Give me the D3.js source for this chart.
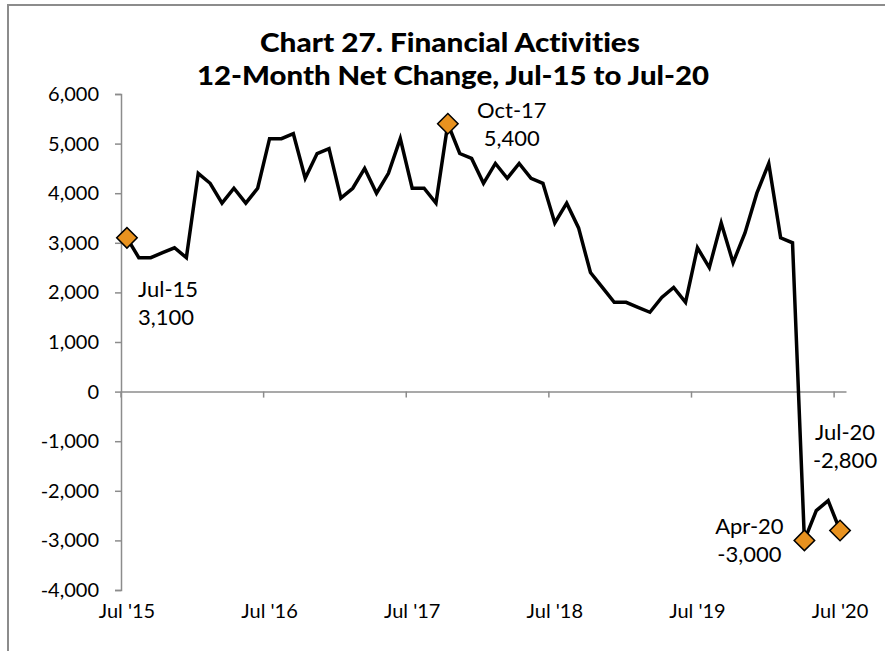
<!DOCTYPE html>
<html lang="en">
<head>
    <meta charset="UTF-8">
    <title>Chart 27. Financial Activities</title>
    <script src="https://d3js.org/d3.v7.min.js"></script>
    <style>
        body { margin: 0; background: #fff; }
        svg { display: block; font-family: Lato, "Open Sans", sans-serif; font-variant-ligatures: none; }
    </style>
</head>
<body>
    <svg width="885" height="651"></svg>

    <script>
        // Months, Jul-15 .. Jul-20
        const months = [
            "Jul-15","Aug-15","Sep-15","Oct-15","Nov-15","Dec-15","Jan-16","Feb-16","Mar-16","Apr-16","May-16","Jun-16",
            "Jul-16","Aug-16","Sep-16","Oct-16","Nov-16","Dec-16","Jan-17","Feb-17","Mar-17","Apr-17","May-17","Jun-17",
            "Jul-17","Aug-17","Sep-17","Oct-17","Nov-17","Dec-17","Jan-18","Feb-18","Mar-18","Apr-18","May-18","Jun-18",
            "Jul-18","Aug-18","Sep-18","Oct-18","Nov-18","Dec-18","Jan-19","Feb-19","Mar-19","Apr-19","May-19","Jun-19",
            "Jul-19","Aug-19","Sep-19","Oct-19","Nov-19","Dec-19","Jan-20","Feb-20","Mar-20","Apr-20","May-20","Jun-20",
            "Jul-20"
        ];

        // 12-month net change
        const netChange = [
            3100, 2700, 2700, 2800, 2900, 2700, 4400, 4200, 3800, 4100, 3800, 4100,
            5100, 5100, 5200, 4300, 4800, 4900, 3900, 4100, 4500, 4000, 4400, 5100,
            4100, 4100, 3800, 5400, 4800, 4700, 4200, 4600, 4300, 4600, 4300, 4200,
            3400, 3800, 3300, 2400, 2100, 1800, 1800, 1700, 1600, 1900, 2100, 1800,
            2900, 2500, 3400, 2600, 3200, 4000, 4600, 3100, 3000, -3000, -2400, -2200,
            -2800
        ];

        const yTicks = [-4000, -3000, -2000, -1000, 0, 1000, 2000, 3000, 4000, 5000, 6000];
        const xTickMonths = ["Jul-15", "Jul-16", "Jul-17", "Jul-18", "Jul-19", "Jul-20"];
        const xTickLabels = ["Jul '15", "Jul '16", "Jul '17", "Jul '18", "Jul '19", "Jul '20"];

        // highlighted points
        const marked = ["Jul-15", "Oct-17", "Apr-20", "Jul-20"];

        const data = months.map((m, i) => ({ month: m, value: netChange[i] }));

        const svg = d3.select("svg");
        const fmt = d3.formatLocale({ decimal: ".", thousands: ",", grouping: [3], currency: ["$", ""], minus: "-" }).format(",");

        const x = d3.scaleBand()
            .domain(months)
            .range([121, 846])
            .padding(0);

        const y = d3.scaleLinear()
            .domain([-4000, 6000])
            .range([590, 94]);

        const axisColor = "#8c8c8c";

        // okvir
        svg.append("rect")
            .attr("x", 8)
            .attr("y", 5)
            .attr("width", 900)
            .attr("height", 700)
            .attr("fill", "none")
            .attr("stroke", axisColor)
            .attr("stroke-width", 2);

        // naslov
        svg.append("text")
            .attr("x", 450)
            .attr("y", 52)
            .attr("text-anchor", "middle")
            .attr("textLength", 380)
            .attr("lengthAdjust", "spacingAndGlyphs")
            .style("font-size", "26px")
            .style("font-weight", 900)
            .text("Chart 27. Financial Activities");

        svg.append("text")
            .attr("x", 453)
            .attr("y", 85)
            .attr("text-anchor", "middle")
            .attr("textLength", 512)
            .attr("lengthAdjust", "spacingAndGlyphs")
            .style("font-size", "26px")
            .style("font-weight", 900)
            .text("12-Month Net Change, Jul-15 to Jul-20");

        // Y os
        const yAxis = svg.append("g")
            .attr("transform", `translate(${x.range()[0]},0)`)
            .call(d3.axisLeft(y).tickValues(yTicks).tickSize(6).tickPadding(16).tickFormat(fmt));
        yAxis.select(".domain").attr("stroke", axisColor).attr("stroke-width", 1.5);
        yAxis.selectAll(".tick line").attr("stroke", axisColor).attr("stroke-width", 1.5);
        yAxis.selectAll(".tick text")
            .attr("fill", "#000")
            .style("font-size", "20px")
            .style("font-family", "Lato, sans-serif");

        // X os (linija na nuli, crtice između kategorija)
        const bw = x.bandwidth();
        const xAxis = svg.append("g")
            .attr("transform", `translate(0,${y(0)})`)
            .call(d3.axisBottom(x).tickValues(xTickMonths).tickSize(6).tickSizeOuter(0).tickFormat(""));
        xAxis.select(".domain").attr("stroke", axisColor).attr("stroke-width", 1.5);
        xAxis.selectAll(".tick line")
            .attr("transform", `translate(${-bw / 2},0)`)
            .attr("stroke", axisColor)
            .attr("stroke-width", 1.5);

        // oznake X osi pri dnu
        const xLabels = svg.append("g")
            .attr("transform", "translate(0,604)")
            .call(d3.axisBottom(x).tickValues(xTickMonths).tickSize(0).tickPadding(0)
                .tickFormat((d, i) => xTickLabels[i]));
        xLabels.select(".domain").remove();
        xLabels.selectAll(".tick text")
            .attr("fill", "#000")
            .attr("dy", "0.71em")
            .style("font-size", "20px")
            .style("font-family", "Lato, sans-serif");

        // linija
        const line = d3.line()
            .x(d => x(d.month) + bw / 2)
            .y(d => y(d.value));

        svg.append("path")
            .datum(data)
            .attr("d", line)
            .attr("fill", "none")
            .attr("stroke", "#000")
            .attr("stroke-width", 3.5)
            .attr("stroke-linejoin", "miter");

        // markeri
        const markData = data.filter(d => marked.includes(d.month));
        svg.selectAll(".marker")
            .data(markData)
            .join("path")
            .attr("class", "marker")
            .attr("d", d3.symbol(d3.symbolSquare, 210))
            .attr("transform", d => `translate(${x(d.month) + bw / 2},${y(d.value)}) rotate(45)`)
            .attr("fill", "#E8921F")
            .attr("stroke", "#000")
            .attr("stroke-width", 1.5);

        // oznake točaka
        const labelPos = {
            "Jul-15": { dx: 11, dy: 59, anchor: "start" },
            "Oct-17": { dx: 64, dy: -6, anchor: "middle" },
            "Apr-20": { dx: -55, dy: -6, anchor: "middle" },
            "Jul-20": { dx: 5, dy: -90, anchor: "middle" }
        };

        markData.forEach(d => {
            const p = labelPos[d.month];
            const t = svg.append("text")
                .attr("x", x(d.month) + bw / 2 + p.dx)
                .attr("y", y(d.value) + p.dy)
                .attr("text-anchor", p.anchor)
                .style("font-size", "22px");
            t.append("tspan").text(d.month);
            t.append("tspan")
                .attr("x", x(d.month) + bw / 2 + p.dx)
                .attr("dy", 28)
                .text(fmt(d.value));
        });
    </script>
</body>
</html>
